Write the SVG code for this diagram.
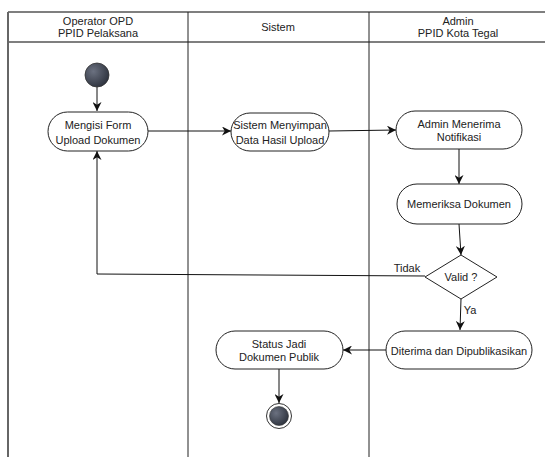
<svg xmlns="http://www.w3.org/2000/svg" width="545" height="457" viewBox="0 0 545 457">
<defs>
<style>
text{font-family:"Liberation Sans",Arial,sans-serif;font-size:11px;fill:#222;text-anchor:middle;dominant-baseline:central}
.lane{stroke:#222;stroke-width:1;fill:none}
.hdr{stroke:#555;stroke-width:1.5;fill:none}
.act{fill:#fff;stroke:#222;stroke-width:1}
.edge{stroke:#111;stroke-width:1;fill:none;marker-end:url(#arr)}
</style>
<marker id="arr" viewBox="0 0 10 10" refX="10" refY="5" markerWidth="9" markerHeight="9" markerUnits="userSpaceOnUse" orient="auto">
<path d="M0,0 L10,5 L0,10 L3,5 Z" fill="#111"/>
</marker>
<radialGradient id="dark" cx="0.35" cy="0.35" r="0.75">
<stop offset="0" stop-color="#6b7180"/>
<stop offset="1" stop-color="#2a2f3a"/>
</radialGradient>
</defs>
<rect width="545" height="457" fill="#fff"/>
<g id="lanes">
<line class="hdr" x1="8" y1="12" x2="545" y2="12"/>
<line class="hdr" x1="8" y1="42" x2="545" y2="42"/>
<line x1="8" y1="12" x2="8" y2="457" stroke="#666" stroke-width="2"/>
<line class="lane" x1="188" y1="12" x2="188" y2="457"/>
<line class="lane" x1="369" y1="12" x2="369" y2="457"/>
<text x="98" y="21">Operator OPD</text>
<text x="98" y="33">PPID Pelaksana</text>
<text x="278" y="27">Sistem</text>
<text x="458" y="21">Admin</text>
<text x="458" y="33">PPID Kota Tegal</text>
</g>
<g id="edges">
<line class="edge" x1="97" y1="87" x2="97" y2="111"/>
<line class="edge" x1="148" y1="131" x2="231" y2="131"/>
<line class="edge" x1="329" y1="131" x2="396" y2="130"/>
<line class="edge" x1="459" y1="149" x2="459" y2="184"/>
<line class="edge" x1="459" y1="224" x2="461" y2="255"/>
<polyline class="edge" points="425,276 97,274 97,151"/>
<line class="edge" x1="461" y1="299" x2="460" y2="330"/>
<line class="edge" x1="386" y1="350" x2="343" y2="350"/>
<line class="edge" x1="279" y1="369" x2="279" y2="403"/>
<text x="407" y="268">Tidak</text>
<text x="470" y="310">Ya</text>
</g>
<g id="start"><circle cx="97" cy="75" r="12" fill="url(#dark)" stroke="#333" stroke-width="0.8"/></g>
<g id="mengisi"><rect class="act" x="48" y="112" width="100" height="39" rx="19.5"/>
<text x="98" y="125">Mengisi Form</text><text x="98" y="140">Upload Dokumen</text></g>
<g id="sistem"><rect class="act" x="231" y="113" width="98" height="38" rx="19"/>
<text x="280" y="125">Sistem Menyimpan</text><text x="280" y="140">Data Hasil Upload</text></g>
<g id="notifikasi"><rect class="act" x="396" y="111" width="126" height="38" rx="19"/>
<text x="459" y="124">Admin Menerima</text><text x="459" y="137">Notifikasi</text></g>
<g id="memeriksa"><rect class="act" x="397" y="184" width="125" height="40" rx="20"/>
<text x="459" y="204">Memeriksa Dokumen</text></g>
<g id="valid"><polygon class="act" points="461,255 497,277 461,299 425,277"/>
<text x="461" y="277">Valid ?</text></g>
<g id="diterima"><rect class="act" x="386" y="331" width="146" height="38" rx="19"/>
<text x="459" y="351">Diterima dan Dipublikasikan</text></g>
<g id="status"><rect class="act" x="216" y="331" width="127" height="38" rx="19"/>
<text x="279" y="344">Status Jadi</text><text x="279" y="357">Dokumen Publik</text></g>
<g id="end"><circle cx="279" cy="416" r="12.5" fill="#fff" stroke="#333" stroke-width="1"/>
<circle cx="279" cy="416" r="9.5" fill="url(#dark)" stroke="#333" stroke-width="0.6"/></g>
</svg>
